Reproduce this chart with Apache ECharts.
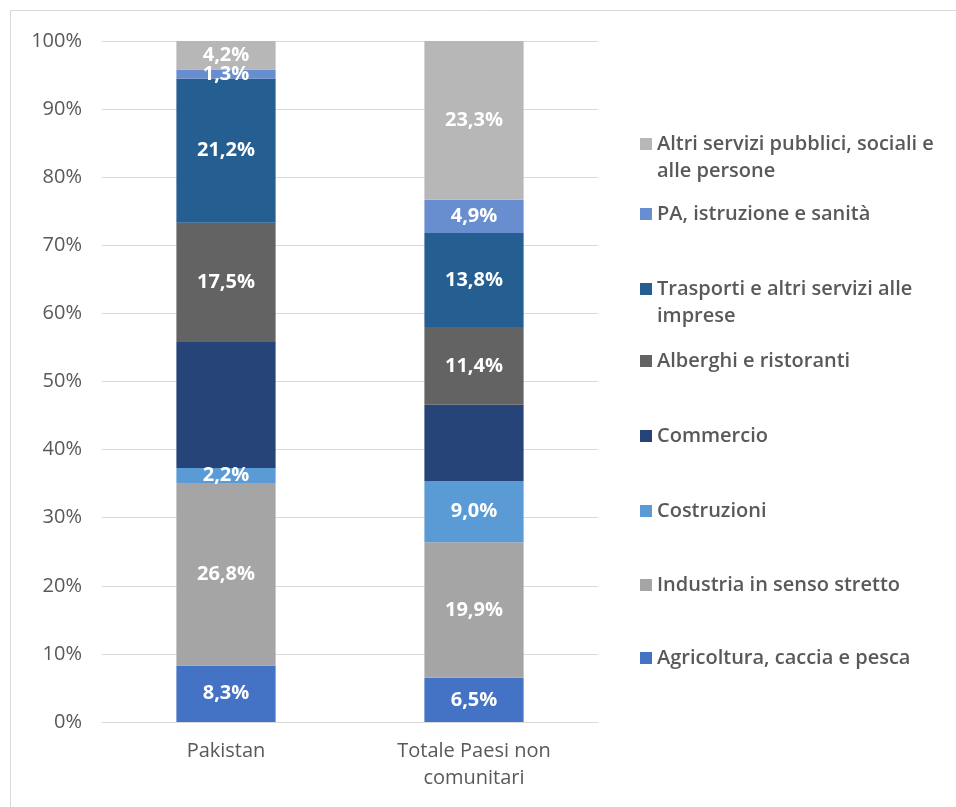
<!DOCTYPE html>
<html>
<head>
<meta charset="utf-8">
<script src="https://cdn.jsdelivr.net/npm/echarts@6/dist/echarts.min.js"></script>
<style>
  html, body { margin: 0; padding: 0; background: #fff; }
  #chart { width: 956px; height: 807px; }
</style>
</head>
<body>
<div id="chart"></div>
<script>
// categorie e valori (% sul totale occupati)
var categorie = ['Pakistan', 'Totale Paesi non\ncomunitari'];
var settori = [
    'Agricoltura, caccia e pesca',
    'Industria in senso stretto',
    'Costruzioni',
    'Commercio',
    'Alberghi e ristoranti',
    'Trasporti e altri servizi alle\nimprese',
    'PA, istruzione e sanità',
    'Altri servizi pubblici, sociali e\nalle persone'
];
var agricoltura = [8.3, 6.5];
var industria = [26.8, 19.9];
var costruzioni = [2.2, 9.0];
var commercio = [18.5, 11.2];
var alberghi = [17.5, 11.4];
var trasporti = [21.2, 13.8];
var pa = [1.3, 4.9];
var altri = [4.2, 23.3];
var valori = [agricoltura, industria, costruzioni, commercio, alberghi, trasporti, pa, altri];
var colori = ['#4472C4', '#A5A5A5', '#5B9BD5', '#264478', '#636363', '#255E91', '#698ED0', '#B7B7B7'];
var tickY = ['0%', '10%', '20%', '30%', '40%', '50%', '60%', '70%', '80%', '90%', '100%'];

var font = 'Open Sans, sans-serif';
var chart = echarts.init(document.getElementById('chart'));

var series = valori.map(function (v, i) {
    return {
        name: settori[i],
        type: 'bar',
        stack: 'tot',
        barWidth: '40%',
        data: v,
        itemStyle: { color: colori[i] },
        label: {
            show: i !== 3,
            position: 'inside',
            color: '#fff',
            fontFamily: font,
            fontWeight: 'bold',
            fontSize: 20,
            formatter: function (p) {
                return p.value.toFixed(1).replace('.', ',') + '%';
            }
        }
    };
});

// legenda: una per voce, dall'alto verso il basso
var legendY = [144, 214, 289, 361, 436, 511, 585, 658];
var legends = [];
for (var k = 0; k < settori.length; k++) {
    var idx = settori.length - 1 - k;
    var dueRighe = settori[idx].indexOf('\n') >= 0;
    legends.push({
        left: 640,
        top: legendY[k] - (dueRighe ? 40.5 : 13.5),
        padding: 0,
        itemWidth: 12,
        itemHeight: 12,
        itemGap: 0,
        icon: 'rect',
        selectedMode: false,
        data: [settori[idx]],
        // riga vuota in testa: la prima riga resta allineata al quadratino
        formatter: dueRighe ? function (n) { return '\n' + n; } : '{name}',
        textStyle: {
            color: '#595959',
            fontFamily: font,
            fontWeight: 600,
            fontSize: 20,
            lineHeight: 27
        }
    });
}

chart.setOption({
    animation: false,
    backgroundColor: '#fff',
    graphic: [{
        type: 'rect',
        shape: { x: 10.5, y: 10.5, width: 960, height: 820 },
        style: { fill: 'none', stroke: '#D9D9D9', lineWidth: 1 },
        silent: true
    }],
    legend: legends,
    grid: { left: 102, right: 358, top: 41, bottom: 85 },
    xAxis: {
        type: 'category',
        data: categorie,
        axisLine: { lineStyle: { color: '#D9D9D9' } },
        axisTick: { show: false },
        axisLabel: {
            color: '#595959',
            fontFamily: font,
            fontSize: 20,
            lineHeight: 27,
            margin: 16
        }
    },
    yAxis: {
        type: 'value',
        min: 0,
        max: 100,
        interval: 10,
        axisLine: { show: false },
        axisTick: { show: false },
        splitLine: { lineStyle: { color: '#D9D9D9' } },
        axisLabel: {
            color: '#595959',
            fontFamily: font,
            fontSize: 20,
            margin: 20,
            formatter: function (v) { return tickY[v / 10]; }
        }
    },
    series: series
});
</script>
</body>
</html>
